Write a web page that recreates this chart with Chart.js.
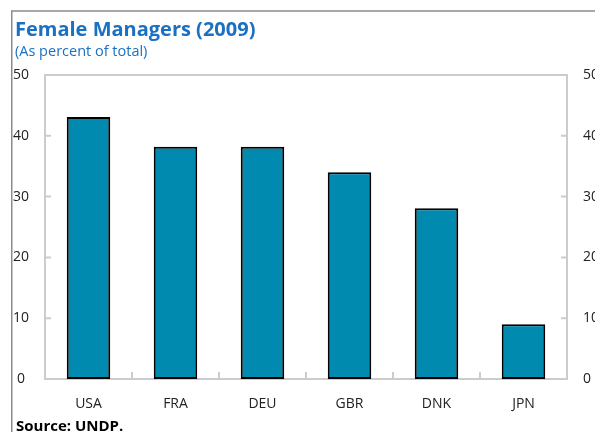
<!DOCTYPE html>
<html>
<head>
<meta charset="utf-8">
<script src="https://cdn.jsdelivr.net/npm/chart.js@4"></script>
<style>
  html, body { margin: 0; padding: 0; background: #fff; }
  #wrap { width: 595px; height: 432px; position: relative; }
</style>
</head>
<body>
<div id="wrap"><canvas id="managersChart" width="595" height="432"></canvas></div>
<script>
const countries = ['USA', 'FRA', 'DEU', 'GBR', 'DNK', 'JPN'];
const femaleShare = [43.1, 38.2, 38.2, 34.0, 28.1, 9.0];
const yTicks = [0, 10, 20, 30, 40, 50];

const titleText = 'Female Managers (2009)';
const subtitleText = '(As percent of total)';
const sourceText = 'Source: UNDP.';

const axisGrey = '#cccccc';
const fontFamily = '"Open Sans", "Noto Sans", sans-serif';

// frame, headings, source note and the short inward tick marks
const decorations = {
    id: 'decorations',
    beforeDraw: (chart) => {
        const ctx = chart.ctx;
        ctx.save();
        ctx.fillStyle = '#fff';
        ctx.fillRect(0, 0, chart.width, chart.height);
        ctx.strokeStyle = '#8c8c8c';
        ctx.lineWidth = 1.5;
        ctx.beginPath();
        ctx.moveTo(11.75, chart.height + 2);
        ctx.lineTo(11.75, 11);
        ctx.lineTo(chart.width + 2, 11);
        ctx.stroke();

        ctx.textBaseline = 'alphabetic';
        ctx.textAlign = 'left';
        ctx.fillStyle = '#1a70c2';
        ctx.font = 'bold 20px ' + fontFamily;
        ctx.fillText(titleText, 15, 36);
        ctx.font = '14.5px ' + fontFamily;
        ctx.fillText(subtitleText, 15, 56);
        ctx.fillStyle = '#000';
        ctx.font = 'bold 15px ' + fontFamily;
        ctx.fillText(sourceText, 16, 431);
        ctx.restore();
    },
    afterDatasetsDraw: (chart) => {
        const ctx = chart.ctx;
        const area = chart.chartArea;
        const x = chart.scales.x;
        const y = chart.scales.y;
        ctx.save();
        ctx.strokeStyle = axisGrey;
        ctx.lineWidth = 2;
        ctx.beginPath();
        // top edge of the plot box
        ctx.moveTo(area.left, area.top);
        ctx.lineTo(area.right, area.top);
        // inward y ticks on both sides
        yTicks.forEach((v) => {
            const py = y.getPixelForValue(v);
            ctx.moveTo(area.left, py);
            ctx.lineTo(area.left + 6, py);
            ctx.moveTo(area.right, py);
            ctx.lineTo(area.right - 6, py);
        });
        // category separators on the x axis
        for (let i = 1; i < countries.length; i++) {
            const px = (x.getPixelForValue(i - 1) + x.getPixelForValue(i)) / 2;
            ctx.moveTo(px, area.bottom);
            ctx.lineTo(px, area.bottom - 7);
        }
        ctx.stroke();
        ctx.restore();
    }
};

const data = {
    labels: countries,
    datasets: [{
        label: 'Female managers',
        data: femaleShare,
        backgroundColor: '#008aaf',
        borderColor: '#000',
        borderWidth: 2,
        borderSkipped: false,
        categoryPercentage: 1,
        barPercentage: 0.5
    }]
};

const yAxisCommon = {
    min: 0,
    max: 50,
    grid: { display: false, drawTicks: false },
    border: { display: true, color: axisGrey, width: 2 },
    afterBuildTicks: (scale) => {
        scale.ticks = yTicks.map((v) => ({ value: v }));
    }
};

const config = {
    type: 'bar',
    data: data,
    plugins: [decorations],
    options: {
        responsive: false,
        animation: false,
        layout: { padding: { left: 13, right: 0, top: 75, bottom: 0 } },
        plugins: {
            legend: { display: false },
            tooltip: { enabled: false }
        },
        scales: {
            x: {
                grid: { display: false, drawTicks: false },
                border: { display: true, color: axisGrey, width: 2 },
                ticks: {
                    color: '#222',
                    padding: 17,
                    font: { family: fontFamily, size: 14 }
                },
                afterFit: (scale) => { scale.height = 53; }
            },
            y: Object.assign({}, yAxisCommon, {
                position: 'left',
                ticks: {
                    color: '#222',
                    padding: 16,
                    crossAlign: 'center',
                    font: { family: fontFamily, size: 14 }
                },
                afterFit: (scale) => { scale.width = 32; }
            }),
            y2: Object.assign({}, yAxisCommon, {
                position: 'right',
                ticks: {
                    color: '#222',
                    padding: 16,
                    font: { family: fontFamily, size: 14 }
                },
                afterFit: (scale) => { scale.width = 28; }
            })
        }
    }
};

const managersChart = new Chart(
    document.getElementById('managersChart'),
    config
);
</script>
</body>
</html>
